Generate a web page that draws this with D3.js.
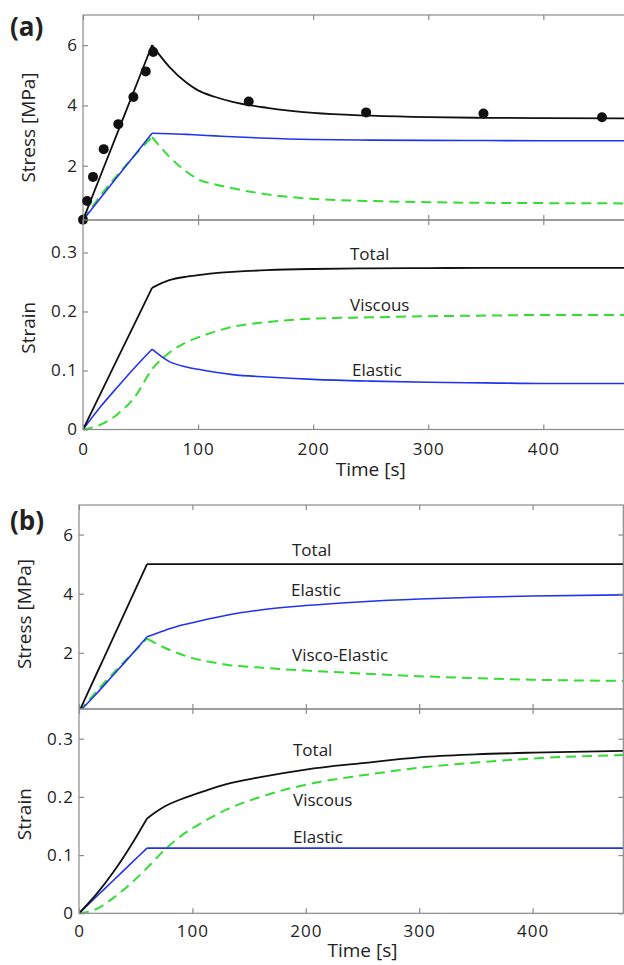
<!DOCTYPE html>
<html>
<head>
<meta charset="utf-8">
<script src="https://cdn.jsdelivr.net/npm/d3@7"></script>
<style>
  body { margin: 0; background: #fff; }
  text { font-family: "Open Sans", sans-serif; fill: #222; }
</style>
</head>
<body>
<svg id="fig" width="624" height="965"></svg>
<script>
// shared time grid [s]
const TIME = [0, 15, 30, 45, 60, 75, 90, 100, 115, 130, 160, 200, 250, 300, 350, 400, 480];
const TIME_TICKS = [0, 100, 200, 300, 400];
const STRESS_TICKS = [2, 4, 6];
const STRAIN_TICKS = [0, 0.1, 0.2, 0.3];

// (a) stress [MPa]
const stressTotalA   = [0.2, 1.65, 3.1, 4.55, 6.0, 5.28, 4.75, 4.5, 4.28, 4.12, 3.92, 3.75, 3.66, 3.61, 3.59, 3.58, 3.57];
const stressElasticA = [0.2, 0.92, 1.64, 2.36, 3.08, 3.06, 3.04, 3.02, 2.99, 2.96, 2.91, 2.87, 2.85, 2.84, 2.835, 2.83, 2.83];
const stressViscoA   = [0.2, 1.0, 1.7, 2.35, 2.95, 2.3, 1.8, 1.55, 1.38, 1.25, 1.05, 0.9, 0.83, 0.79, 0.77, 0.76, 0.75];
// measured points
const dotTimeA   = [0, 3.6, 8.7, 18, 30.7, 43.8, 54.5, 61, 144, 246, 348, 451];
const dotStressA = [0.21, 0.83, 1.63, 2.55, 3.38, 4.28, 5.13, 5.77, 4.13, 3.77, 3.73, 3.61];

// (a) strain
const strainTotalA   = [0, 0.06, 0.12, 0.18, 0.24, 0.253, 0.259, 0.2615, 0.265, 0.267, 0.27, 0.272, 0.273, 0.2735, 0.274, 0.274, 0.274];
const strainElasticA = [0, 0.038, 0.072, 0.105, 0.136, 0.115, 0.106, 0.102, 0.097, 0.093, 0.089, 0.085, 0.082, 0.08, 0.079, 0.078, 0.078];
const strainViscousA = [0, 0.008, 0.026, 0.055, 0.102, 0.13, 0.148, 0.156, 0.166, 0.174, 0.182, 0.188, 0.19, 0.192, 0.193, 0.194, 0.194];

// (b) stress [MPa]
const stressTotalB   = [0, 1.25, 2.5, 3.75, 5, 5, 5, 5, 5, 5, 5, 5, 5, 5, 5, 5, 5];
const stressElasticB = [0, 0.6, 1.24, 1.88, 2.54, 2.75, 2.93, 3.02, 3.15, 3.27, 3.45, 3.6, 3.73, 3.82, 3.88, 3.92, 3.96];
const stressViscoB   = [0, 0.68, 1.3, 1.9, 2.48, 2.18, 1.95, 1.82, 1.7, 1.6, 1.5, 1.4, 1.3, 1.21, 1.14, 1.09, 1.05];

// (b) strain
const strainTotalB   = [0, 0.032, 0.07, 0.114, 0.163, 0.183, 0.196, 0.203, 0.213, 0.222, 0.234, 0.247, 0.258, 0.268, 0.273, 0.276, 0.279];
const strainElasticB = [0, 0.028, 0.056, 0.084, 0.112, 0.112, 0.112, 0.112, 0.112, 0.112, 0.112, 0.112, 0.112, 0.112, 0.112, 0.112, 0.112];
const strainViscousB = [0, 0.007, 0.026, 0.05, 0.078, 0.108, 0.133, 0.146, 0.163, 0.178, 0.2, 0.221, 0.237, 0.25, 0.259, 0.266, 0.272];

const BLACK = '#111', BLUE = '#2233ee', GREEN = '#33dd33', AXIS = '#8a8a8a';
const KNEE = TIME.indexOf(60);

const svg = d3.select('#fig');
let clipId = 0;

function subplot(x, cfg) {
  const y = d3.scaleLinear().domain(cfg.domain).range([cfg.bottom, cfg.top]);
  const x0 = x.range()[0], x1 = x.range()[1];
  const g = svg.append('g');
  const id = 'clip' + (clipId++);
  g.append('clipPath').attr('id', id).append('rect')
    .attr('x', x0).attr('y', cfg.top).attr('width', x1 - x0).attr('height', cfg.bottom - cfg.top);

  const plot = g.append('g').attr('clip-path', `url(#${id})`);
  const line = d3.line().x(d => x(d[0])).y(d => y(d[1])).curve(d3.curveMonotoneX);

  cfg.series.forEach(s => {
    const pts = TIME.map((t, i) => [t, s.values[i]]);
    const parts = s.knee ? [pts.slice(0, KNEE + 1), pts.slice(KNEE)] : [pts];
    parts.forEach(p => {
      plot.append('path').attr('d', line(p))
        .attr('fill', 'none').attr('stroke', s.color).attr('stroke-width', s.width)
        .attr('stroke-dasharray', s.dash || null);
    });
  });

  // box + inward ticks on all four sides
  g.append('rect').attr('x', x0).attr('y', cfg.top).attr('width', x1 - x0).attr('height', cfg.bottom - cfg.top)
    .attr('fill', 'none').attr('stroke', AXIS).attr('stroke-width', 1.2);

  if (cfg.dots) {
    g.selectAll('circle').data(cfg.dots.t).enter().append('circle')
      .attr('cx', d => x(d)).attr('cy', (d, i) => y(cfg.dots.v[i])).attr('r', 5).attr('fill', BLACK);
  }

  const left = d3.axisLeft(y).tickValues(cfg.ticks).tickSizeInner(-5).tickSizeOuter(0).tickPadding(5)
    .tickFormat(cfg.fmt);
  const right = d3.axisRight(y).tickValues(cfg.ticks).tickSizeInner(-5).tickSizeOuter(0).tickFormat('');
  const top = d3.axisTop(x).tickValues(TIME_TICKS).tickSizeInner(-5).tickSizeOuter(0).tickFormat('');
  const bottom = d3.axisBottom(x).tickValues(TIME_TICKS).tickSizeInner(-5).tickSizeOuter(0)
    .tickPadding(cfg.xPad || 0).tickFormat(cfg.xLabels ? d3.format('d') : '');

  [[left, `translate(${x0},0)`], [right, `translate(${x1},0)`],
   [top, `translate(0,${cfg.top})`], [bottom, `translate(0,${cfg.bottom})`]].forEach(([ax, tr]) => {
    const a = g.append('g').attr('transform', tr).call(ax);
    a.select('.domain').remove();
    a.selectAll('line').attr('stroke', AXIS).attr('stroke-width', 1.2);
    a.selectAll('text').style('font-family', '"Open Sans", sans-serif').style('font-size', '17px')
      .style('letter-spacing', '1px').attr('fill', '#222');
  });

  g.append('text').attr('transform', `translate(${cfg.labelX},${(cfg.top + cfg.bottom) / 2 + (cfg.labelShift || 0)}) rotate(-90)`)
    .attr('text-anchor', 'middle').style('font-size', '19px').text(cfg.label);

  (cfg.notes || []).forEach(n => {
    g.append('text').attr('x', n.x).attr('y', n.y).style('font-size', '17px').text(n.text);
  });
  return y;
}

function figure(f) {
  const x = d3.scaleLinear().domain([0, 480]).range([f.left, f.left + 4.8 * f.px100]);
  subplot(x, f.stress);
  subplot(x, f.strain);
  svg.append('text').attr('x', f.tagX).attr('y', f.tagY).style('font-size', '26px').style('font-weight', 'bold')
    .text(f.tag);
  svg.append('text').attr('x', x(f.timeLabelAt)).attr('y', f.timeLabelY).attr('text-anchor', 'middle')
    .style('font-size', '19px').text('Time [s]');
}

const strainFmt = d => d === 0 ? '0' : d3.format('.1f')(d);

figure({
  tag: '(a)', tagX: 10, tagY: 36, left: 83, px100: 115.08, timeLabelAt: 250, timeLabelY: 476,
  stress: {
    top: 15, bottom: 220, domain: [0.2, 7], ticks: STRESS_TICKS, fmt: d3.format('d'),
    label: 'Stress [MPa]', labelX: 35, labelShift: 10,
    dots: { t: dotTimeA, v: dotStressA },
    series: [
      { values: stressViscoA, color: GREEN, width: 2, dash: '10,6', knee: true },
      { values: stressElasticA, color: BLUE, width: 1.6, knee: true },
      { values: stressTotalA, color: BLACK, width: 1.8, knee: true }
    ]
  },
  strain: {
    top: 220, bottom: 429.5, domain: [0, 0.355], ticks: STRAIN_TICKS, fmt: strainFmt,
    xLabels: true, xPad: 13, label: 'Strain', labelX: 35, labelShift: 3,
    series: [
      { values: strainViscousA, color: GREEN, width: 2, dash: '10,6' },
      { values: strainElasticA, color: BLUE, width: 1.6, knee: true },
      { values: strainTotalA, color: BLACK, width: 1.8, knee: true }
    ],
    notes: [
      { x: 350, y: 260, text: 'Total' },
      { x: 350, y: 311, text: 'Viscous' },
      { x: 352, y: 376, text: 'Elastic' }
    ]
  }
});

figure({
  tag: '(b)', tagX: 10, tagY: 530, left: 79, px100: 113.4, timeLabelAt: 250, timeLabelY: 957,
  stress: {
    top: 505, bottom: 709, domain: [0.1, 7], ticks: STRESS_TICKS, fmt: d3.format('d'),
    label: 'Stress [MPa]', labelX: 31, labelShift: 7,
    series: [
      { values: stressViscoB, color: GREEN, width: 2, dash: '10,6', knee: true },
      { values: stressElasticB, color: BLUE, width: 1.6, knee: true },
      { values: stressTotalB, color: BLACK, width: 1.8, knee: true }
    ],
    notes: [
      { x: 292, y: 556, text: 'Total' },
      { x: 291, y: 596, text: 'Elastic' },
      { x: 292, y: 661, text: 'Visco-Elastic' }
    ]
  },
  strain: {
    top: 709, bottom: 913.3, domain: [0, 0.351], ticks: STRAIN_TICKS, fmt: strainFmt,
    xLabels: true, xPad: 12, label: 'Strain', labelX: 31, labelShift: 3,
    series: [
      { values: strainViscousB, color: GREEN, width: 2, dash: '10,6' },
      { values: strainElasticB, color: BLUE, width: 1.6, knee: true },
      { values: strainTotalB, color: BLACK, width: 1.8, knee: true }
    ],
    notes: [
      { x: 293, y: 756, text: 'Total' },
      { x: 293, y: 806, text: 'Viscous' },
      { x: 293, y: 843, text: 'Elastic' }
    ]
  }
});
</script>
</body>
</html>
